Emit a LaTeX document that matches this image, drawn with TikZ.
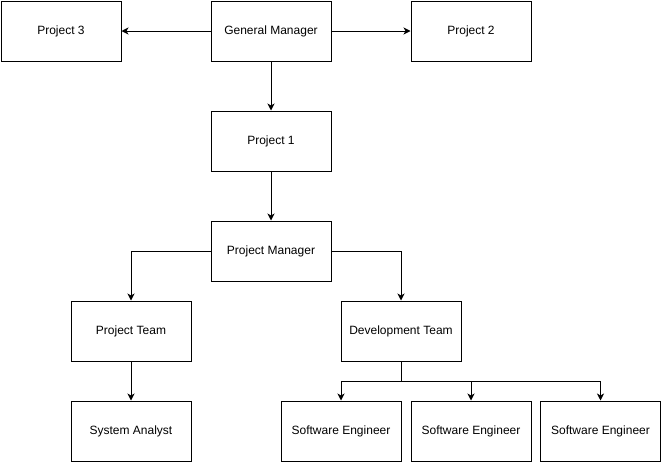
\documentclass[tikz,border=0pt]{standalone}
\usepackage{fontspec}
\setmainfont{Liberation Sans}
\usetikzlibrary{arrows.meta,positioning,calc}
\begin{document}
\begin{tikzpicture}[x=1pt,y=-1pt,
  box/.style={draw=black,line width=1pt,minimum width=120pt,minimum height=60pt,inner sep=0pt,font=\fontsize{12}{14}\selectfont,anchor=north west},
  conn/.style={line width=1pt,-{Stealth[length=7pt,width=7pt,inset=2pt]}},
  plain/.style={line width=1pt}]
\useasboundingbox (0,0) rectangle (661,461);
\node[box] (p3) at (0.5,0.5) {Project 3};
\node[box] (gm) at (210.5,0.5) {General Manager};
\node[box] (p2) at (410.5,0.5) {Project 2};
\node[box] (p1) at (210.5,110.5) {Project 1};
\node[box] (pm) at (210.5,220.5) {Project Manager};
\node[box] (pt) at (70.5,300.5) {Project Team};
\node[box] (dt) at (340.5,300.5) {Development Team};
\node[box] (sa) at (70.5,400.5) {System Analyst};
\node[box] (se1) at (280.5,400.5) {Software Engineer};
\node[box] (se2) at (410.5,400.5) {Software Engineer};
\node[box] (se3) at (540,400.5) {Software Engineer};
\coordinate (split) at ($(dt.south)+(0,20)$);
\draw[conn] (gm.west) -- (p3.east);
\draw[conn] (gm.east) -- (p2.west);
\draw[conn] (gm.south) -- (p1.north);
\draw[conn] (p1.south) -- (pm.north);
\draw[conn] (pm.west) -| (pt.north);
\draw[conn] (pm.east) -| (dt.north);
\draw[conn] (pt.south) -- (sa.north);
\draw[plain] (dt.south) -- (split);
\draw[conn] (split) -| (se1.north);
\draw[conn] (split) -| (se2.north);
\draw[conn] (split) -| (se3.north);
\end{tikzpicture}
\end{document}
